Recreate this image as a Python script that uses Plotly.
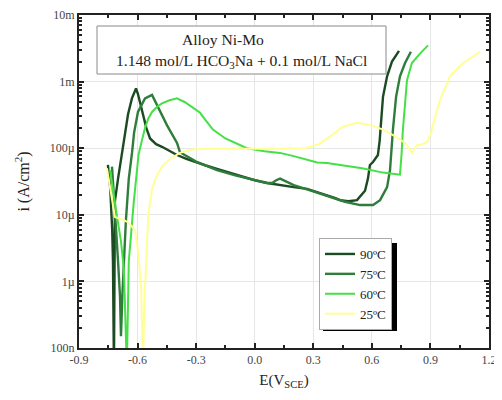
import plotly.graph_objects as go

# ---------------- data ----------------
E_90 = [-0.752, -0.74, -0.73, -0.726, -0.721, -0.718, -0.716, -0.70, -0.68, -0.665, -0.649,
        -0.629, -0.618, -0.608, -0.598, -0.585, -0.572, -0.555, -0.536, -0.505, -0.475, -0.44,
        -0.398, -0.35, -0.30, -0.25, -0.193, -0.12, -0.05, 0.0, 0.063, 0.12, 0.2, 0.268, 0.32,
        0.37, 0.41, 0.437, 0.48, 0.524, 0.545, 0.565, 0.58, 0.59, 0.606, 0.631, 0.64, 0.647,
        0.657, 0.678, 0.703, 0.739]
i_90 = [5.6e-5, 2.5e-5, 6e-6, 2e-6, 5e-8, 2e-6, 1.6e-5, 3.5e-5, 8.7e-5, 1.7e-4, 3.2e-4,
        5.6e-4, 7.0e-4, 7.9e-4, 6.5e-4, 4.5e-4, 3.2e-4, 2.0e-4, 1.4e-4, 1.15e-4, 1.05e-4, 9.2e-5,
        7.9e-5, 6.9e-5, 6.1e-5, 5.5e-5, 4.9e-5, 4.2e-5, 3.6e-5, 3.3e-5, 3.0e-5, 2.8e-5, 2.6e-5, 2.45e-5, 2.2e-5,
        2.0e-5, 1.8e-5, 1.66e-5, 1.6e-5, 1.66e-5, 2.0e-5, 2.3e-5, 3.5e-5, 5.6e-5, 6.2e-5, 7.9e-5, 1.3e-4, 2.6e-4,
        5.9e-4, 1.2e-3, 2.0e-3, 2.9e-3]

E_75 = [-0.731, -0.72, -0.71, -0.70, -0.69, -0.685, -0.678, -0.66, -0.645, -0.628, -0.618,
        -0.598, -0.562, -0.526, -0.495, -0.449, -0.398, -0.383, -0.30, -0.193, -0.10, 0.0,
        0.063, 0.09, 0.11, 0.13, 0.15, 0.165, 0.2, 0.268, 0.37, 0.462, 0.54, 0.606, 0.642,
        0.678, 0.693, 0.708, 0.724, 0.744, 0.77, 0.80]
i_75 = [5.3e-5, 2.0e-5, 5.9e-6, 2e-6, 6e-7, 1.5e-7, 6e-7, 8e-6, 3.5e-5, 8.7e-5, 1.7e-4,
        3.5e-4, 5.6e-4, 6.3e-4, 4.2e-4, 2.2e-4, 1.2e-4, 8.7e-5, 6.3e-5, 4.7e-5, 3.9e-5, 3.3e-5,
        3.0e-5, 3.0e-5, 3.3e-5, 3.5e-5, 3.3e-5, 3.1e-5, 2.8e-5, 2.4e-5, 1.9e-5, 1.57e-5, 1.4e-5, 1.4e-5, 1.66e-5,
        2.6e-5, 4.7e-5, 1.9e-4, 5.9e-4, 1.2e-3, 1.9e-3, 2.8e-3]

E_60 = [-0.741, -0.725, -0.705, -0.685, -0.67, -0.655, -0.645, -0.62, -0.605, -0.595, -0.578,
        -0.562, -0.545, -0.526, -0.50, -0.475, -0.44, -0.398, -0.357, -0.32, -0.28, -0.25,
        -0.214, -0.15, -0.04, 0.05, 0.129, 0.2, 0.32, 0.37, 0.437, 0.55, 0.657, 0.744, 0.752,
        0.759, 0.78, 0.805, 0.85, 0.888]
i_60 = [4.7e-5, 2.2e-5, 9.3e-6, 4e-6, 1.5e-6, 5e-8, 2e-6, 1.5e-5, 4.5e-5, 8e-5, 1.3e-4,
        2.0e-4, 2.8e-4, 3.5e-4, 4.2e-4, 4.7e-4, 5.2e-4, 5.6e-4, 4.9e-4, 4.1e-4, 3.4e-4, 2.6e-4,
        1.9e-4, 1.4e-4, 1.0e-4, 9.0e-5, 8.5e-5, 7.6e-5, 6.1e-5, 6.0e-5, 5.6e-5, 5.0e-5, 4.3e-5, 4.0e-5, 8e-5,
        1.9e-4, 1.05e-3, 1.9e-3, 2.7e-3, 3.5e-3]

E_25 = [-0.757, -0.735, -0.716, -0.68, -0.65, -0.613, -0.595, -0.582, -0.572, -0.565, -0.557,
        -0.545, -0.525, -0.50, -0.47, -0.43, -0.383, -0.33, -0.28, -0.15, 0.0, 0.15, 0.257,
        0.33, 0.40, 0.45, 0.524, 0.60, 0.657, 0.72, 0.77, 0.806, 0.83, 0.86, 0.882, 0.90,
        0.925, 0.949, 1.0, 1.067, 1.154]
i_25 = [5.0e-5, 2.0e-5, 9.3e-6, 8.5e-6, 7.8e-6, 5.9e-6, 2.5e-6, 8e-7, 5e-8, 5e-7, 2e-6,
        1.0e-5, 2.5e-5, 4.0e-5, 5.5e-5, 7.0e-5, 8.5e-5, 9.5e-5, 9.8e-5, 9.8e-5, 9.7e-5, 9.8e-5, 1.0e-4,
        1.15e-4, 1.6e-4, 2.1e-4, 2.4e-4, 2.2e-4, 1.9e-4, 1.5e-4, 1.2e-4, 8.5e-5, 1.1e-4, 1.15e-4, 1.23e-4, 1.6e-4,
        3.0e-4, 5.3e-4, 1.2e-3, 1.9e-3, 2.8e-3]

series_names = ["90ºC", "75ºC", "60ºC", "25ºC"]
series_colors = ["#1c4a22", "#2f7d3a", "#45e045", "#ffff96"]
series_widths = [2.4, 2.4, 2, 2]

x_tickvals = [-0.9, -0.6, -0.3, 0.0, 0.3, 0.6, 0.9, 1.2]
x_ticktext = ["-0.9", "-0.6", "-0.3", "0.0", "0.3", "0.6", "0.9", "1.2"]
y_tickvals = [1e-7, 1e-6, 1e-5, 1e-4, 1e-3, 1e-2]
y_ticktext = ["100n", "1µ", "10µ", "100µ", "1m", "10m"]

FONT = "Liberation Serif"

fig = go.Figure()
for E, cur, name, col, lw in zip([E_90, E_75, E_60, E_25], [i_90, i_75, i_60, i_25],
                                 series_names, series_colors, series_widths):
    fig.add_trace(go.Scatter(x=E, y=cur, mode="lines", name=name,
                             line=dict(color=col, width=lw)))

# page body has an 8px margin; figure is sized so that it fills the window
OFF = 8
W, H = 494, 384
# plot area in screen pixels
SX0, SX1, SY0, SY1 = 79, 489, 15, 348
L, T = SX0 - OFF, SY0 - OFF
R = (OFF + W) - SX1
B = (OFF + H) - SY1
pw, ph = SX1 - SX0, SY1 - SY0


def px2paper_x(sx):
    return (sx - SX0) / pw


def px2paper_y(sy):
    return 1 - (sy - SY0) / ph


shapes = [
    # text box
    dict(type="rect", xref="paper", yref="paper",
         x0=px2paper_x(97), x1=px2paper_x(386), y0=px2paper_y(74), y1=px2paper_y(26),
         line=dict(color="#8a8a8a", width=1), fillcolor="white", layer="above"),
    # legend shadow
    dict(type="rect", xref="paper", yref="paper",
         x0=px2paper_x(323), x1=px2paper_x(397), y0=px2paper_y(331), y1=px2paper_y(243),
         line=dict(width=0), fillcolor="black", layer="above"),
]

annotations = [
    dict(text="Alloy Ni-Mo", xref="paper", yref="paper", x=px2paper_x(223), y=px2paper_y(40),
         xanchor="center", yanchor="middle",
         showarrow=False, font=dict(family=FONT, size=15.6, color="#222")),
    dict(text="1.148 mol/L HCO<sub>3</sub>Na + 0.1 mol/L NaCl", xref="paper", yref="paper",
         x=px2paper_x(242), y=px2paper_y(61), xanchor="center", yanchor="middle",
         showarrow=False, font=dict(family=FONT, size=15.6, color="#222")),
]

fig.update_layout(
    width=W, height=H,
    margin=dict(l=L, r=R, t=T, b=B, autoexpand=False),
    paper_bgcolor="white", plot_bgcolor="white",
    font=dict(family=FONT, color="#333"),
    shapes=shapes, annotations=annotations,
    legend=dict(x=px2paper_x(319), y=px2paper_y(238), xanchor="left", yanchor="top",
                bgcolor="white", bordercolor="#aaaaaa", borderwidth=1,
                font=dict(family=FONT, size=13, color="#222"), tracegroupgap=0,
                itemwidth=30),
    showlegend=True,
)

fig.update_xaxes(
    range=[-0.9, 1.2], tickmode="array", tickvals=x_tickvals, ticktext=x_ticktext,
    ticks="inside", ticklen=5, tickwidth=1.5, tickcolor="#222",
    minor=dict(ticks="inside", ticklen=3, dtick=0.15, tick0=-0.9, tickcolor="#222", showgrid=False),
    showline=True, linecolor="#222", linewidth=2, mirror="allticks",
    showgrid=True, gridcolor="#e6e6e6", gridwidth=1, zeroline=False,
    tickfont=dict(family=FONT, size=12, color="#444"), automargin=False,
    title=dict(text="E(V<sub>SCE</sub>)", font=dict(family=FONT, size=15, color="#222"), standoff=8),
)
fig.update_yaxes(
    type="log", range=[-7, -2], tickmode="array", tickvals=y_tickvals, ticktext=y_ticktext,
    ticks="inside", ticklen=5, tickwidth=1.5, tickcolor="#222",
    minor=dict(ticks="inside", ticklen=3, dtick="D1", tickcolor="#222", showgrid=False),
    showline=True, linecolor="#222", linewidth=2, mirror="allticks",
    showgrid=True, gridcolor="#e6e6e6", gridwidth=1, zeroline=False,
    tickfont=dict(family=FONT, size=12, color="#444"), automargin=False,
    title=dict(text="i (A/cm<sup>2</sup>)", font=dict(family=FONT, size=16, color="#222"), standoff=16),
)

fig.write_html("out.html")
